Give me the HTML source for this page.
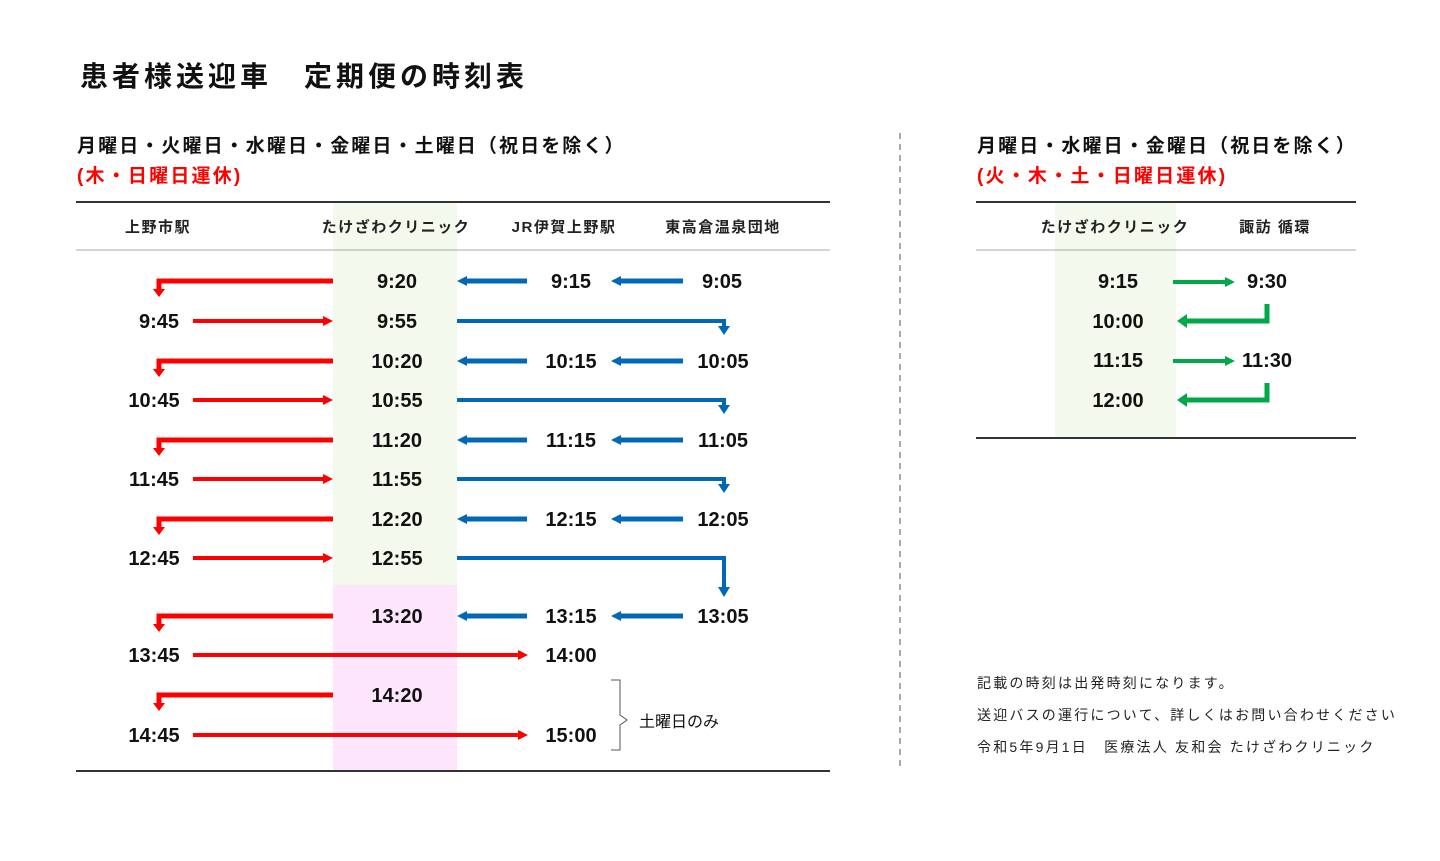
<!DOCTYPE html>
<html><head><meta charset="utf-8"><style>
html,body{margin:0;padding:0;background:#fff;}
svg{display:block;font-family:"Liberation Sans","Noto Sans CJK JP",sans-serif;}
.t{font-size:20px;font-weight:bold;fill:#111;text-anchor:middle;}
.h{font-size:15px;font-weight:bold;fill:#222;text-anchor:middle;letter-spacing:1.5px;}
.n{font-size:14px;fill:#222;letter-spacing:2.2px;}
</style></head><body>
<svg width="1440" height="861" viewBox="0 0 1440 861">
<rect x="333" y="203" width="124" height="382" fill="#f3f9ec"/>
<rect x="333" y="585" width="124" height="186" fill="#fde6fb"/>
<rect x="1055" y="203" width="121" height="235" fill="#f3f9ec"/>
<text x="80" y="86" style="font-size:28px;font-weight:bold;fill:#111;letter-spacing:4px">患者様送迎車　定期便の時刻表</text>
<text x="77" y="152" style="font-size:19px;font-weight:bold;fill:#111;letter-spacing:2.1px">月曜日・火曜日・水曜日・金曜日・土曜日（祝日を除く）</text>
<text x="77" y="182" style="font-size:19px;font-weight:bold;fill:#f00;letter-spacing:2.2px">(木・日曜日運休)</text>
<text x="977" y="152" style="font-size:19px;font-weight:bold;fill:#111;letter-spacing:2.1px">月曜日・水曜日・金曜日（祝日を除く）</text>
<text x="977" y="182" style="font-size:19px;font-weight:bold;fill:#f00;letter-spacing:2.2px">(火・木・土・日曜日運休)</text>
<line x1="76" y1="202" x2="830" y2="202" stroke="#333" stroke-width="2"/>
<line x1="76" y1="250" x2="830" y2="250" stroke="#aaa" stroke-width="1"/>
<line x1="76" y1="771" x2="830" y2="771" stroke="#333" stroke-width="2"/>
<line x1="976" y1="202" x2="1356" y2="202" stroke="#333" stroke-width="2"/>
<line x1="976" y1="250" x2="1356" y2="250" stroke="#aaa" stroke-width="1"/>
<line x1="976" y1="438" x2="1356" y2="438" stroke="#333" stroke-width="2"/>
<line x1="900" y1="133" x2="900" y2="771" stroke="#555" stroke-width="1" stroke-dasharray="6,5"/>
<text class="h" x="158" y="232">上野市駅</text>
<text class="h" x="396" y="232">たけざわクリニック</text>
<text class="h" x="564" y="232">JR伊賀上野駅</text>
<text class="h" x="723" y="232">東高倉温泉団地</text>
<text class="h" x="1115" y="232">たけざわクリニック</text>
<text class="h" x="1275" y="232">諏訪 循環</text>
<defs>
<g id="rl"><polyline points="333,0 159,0 159,9" fill="none" stroke="#f00" stroke-width="5"/><polygon points="153,8 165,8 159,16" fill="#f00"/></g>
<g id="rr"><line x1="193" y1="0" x2="324" y2="0" stroke="#f00" stroke-width="4"/><polygon points="323,-5 333,0 323,5" fill="#f00"/></g>
<g id="rlong"><line x1="193" y1="0" x2="519" y2="0" stroke="#f00" stroke-width="4"/><polygon points="518,-5 528,0 518,5" fill="#f00"/></g>
<g id="bl"><line x1="527" y1="0" x2="465" y2="0" stroke="#0068b7" stroke-width="5"/><polygon points="467,-5 457,0 467,5" fill="#0068b7"/><line x1="683" y1="0" x2="619" y2="0" stroke="#0068b7" stroke-width="5"/><polygon points="621,-5 611,0 621,5" fill="#0068b7"/></g>
<g id="bL"><polyline points="457,0 724,0 724,6" fill="none" stroke="#0068b7" stroke-width="4"/><polygon points="718,5 730,5 724,14" fill="#0068b7"/></g>
<g id="gr"><line x1="1173" y1="0" x2="1226" y2="0" stroke="#00a84a" stroke-width="4"/><polygon points="1225,-5 1235,0 1225,5" fill="#00a84a"/></g>
<g id="gL"><polyline points="1267,-17 1267,0 1186,0" fill="none" stroke="#00a84a" stroke-width="5"/><polygon points="1187,-7 1177,0 1187,7" fill="#00a84a"/></g>
</defs>
<use href="#rl" y="281"/><use href="#bl" y="281"/>
<text class="t" x="397" y="288">9:20</text><text class="t" x="571" y="288">9:15</text><text class="t" x="722" y="288">9:05</text>
<use href="#rr" y="321"/><use href="#bL" y="321"/>
<text class="t" x="159" y="328">9:45</text><text class="t" x="397" y="328">9:55</text>
<use href="#rl" y="361"/><use href="#bl" y="361"/>
<text class="t" x="397" y="368">10:20</text><text class="t" x="571" y="368">10:15</text><text class="t" x="723" y="368">10:05</text>
<use href="#rr" y="400"/><use href="#bL" y="400"/>
<text class="t" x="154" y="407">10:45</text><text class="t" x="397" y="407">10:55</text>
<use href="#rl" y="440"/><use href="#bl" y="440"/>
<text class="t" x="397" y="447">11:20</text><text class="t" x="571" y="447">11:15</text><text class="t" x="723" y="447">11:05</text>
<use href="#rr" y="479"/><use href="#bL" y="479"/>
<text class="t" x="154" y="486">11:45</text><text class="t" x="397" y="486">11:55</text>
<use href="#rl" y="519"/><use href="#bl" y="519"/>
<text class="t" x="397" y="526">12:20</text><text class="t" x="571" y="526">12:15</text><text class="t" x="723" y="526">12:05</text>
<use href="#rr" y="558"/>
<polyline points="457,558 724,558 724,588" fill="none" stroke="#0068b7" stroke-width="4"/><polygon points="718,587 730,587 724,597" fill="#0068b7"/>
<text class="t" x="154" y="565">12:45</text><text class="t" x="397" y="565">12:55</text>
<use href="#rl" y="616"/><use href="#bl" y="616"/>
<text class="t" x="397" y="623">13:20</text><text class="t" x="571" y="623">13:15</text><text class="t" x="723" y="623">13:05</text>
<use href="#rlong" y="655"/>
<text class="t" x="154" y="662">13:45</text><text class="t" x="571" y="662">14:00</text>
<use href="#rl" y="695"/>
<text class="t" x="397" y="702">14:20</text>
<use href="#rlong" y="735"/>
<text class="t" x="154" y="742">14:45</text><text class="t" x="571" y="742">15:00</text>
<polyline points="611,680 620,680 620,715 627,720 620,725 620,750 611,750" fill="none" stroke="#555" stroke-width="1"/>
<text x="639" y="727" style="font-size:16px;fill:#111">土曜日のみ</text>
<use href="#gr" y="282"/><use href="#gL" y="321"/><use href="#gr" y="361"/><use href="#gL" y="400"/>
<text class="t" x="1118" y="288">9:15</text><text class="t" x="1267" y="288">9:30</text>
<text class="t" x="1118" y="328">10:00</text>
<text class="t" x="1118" y="367">11:15</text><text class="t" x="1267" y="367">11:30</text>
<text class="t" x="1118" y="407">12:00</text>
<text class="n" x="977" y="688">記載の時刻は出発時刻になります。</text>
<text class="n" x="977" y="720">送迎バスの運行について、詳しくはお問い合わせください</text>
<text class="n" x="977" y="752">令和5年9月1日　医療法人 友和会 たけざわクリニック</text>
</svg>
</body></html>
